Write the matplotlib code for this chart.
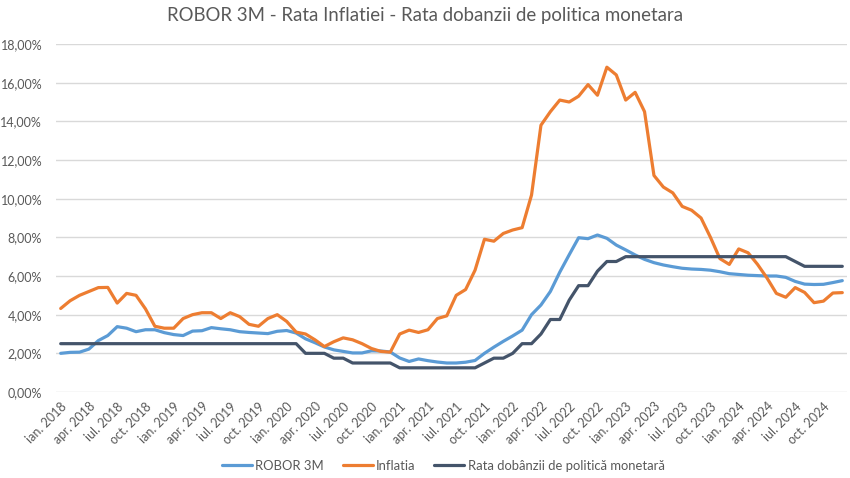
import matplotlib
matplotlib.use("Agg")
import matplotlib.pyplot as plt

# ---------------- data ----------------
months = list(range(84))  # ian. 2018 .. dec. 2024 (monthly)

robor_3m = [
    2.00, 2.05, 2.06, 2.22, 2.66, 2.92, 3.38, 3.30, 3.12, 3.22, 3.22, 3.07,   # 2018
    2.97, 2.92, 3.15, 3.17, 3.33, 3.27, 3.22, 3.12, 3.08, 3.05, 3.02, 3.14,   # 2019
    3.18, 3.05, 2.75, 2.55, 2.33, 2.18, 2.10, 2.02, 2.02, 2.13, 2.12, 2.07,   # 2020
    1.76, 1.58, 1.71, 1.62, 1.55, 1.50, 1.50, 1.54, 1.63, 2.00, 2.32, 2.62,   # 2021
    2.90, 3.20, 4.00, 4.50, 5.20, 6.20, 7.10, 7.98, 7.93, 8.12, 7.95, 7.60,   # 2022
    7.35, 7.09, 6.86, 6.69, 6.57, 6.48, 6.40, 6.36, 6.34, 6.30, 6.22, 6.12,   # 2023
    6.08, 6.04, 6.02, 6.00, 6.00, 5.93, 5.72, 5.58, 5.56, 5.57, 5.66, 5.76,   # 2024
]

inflatia = [
    4.32, 4.72, 5.00, 5.20, 5.40, 5.41, 4.60, 5.10, 5.00, 4.30, 3.40, 3.30,   # 2018
    3.30, 3.80, 4.00, 4.10, 4.10, 3.80, 4.10, 3.90, 3.50, 3.40, 3.80, 4.00,   # 2019
    3.65, 3.10, 3.00, 2.70, 2.35, 2.60, 2.80, 2.70, 2.50, 2.25, 2.10, 2.06,   # 2020
    3.00, 3.20, 3.08, 3.22, 3.80, 3.94, 5.00, 5.30, 6.30, 7.90, 7.80, 8.20,   # 2021
    8.38, 8.50, 10.19, 13.80, 14.50, 15.10, 15.00, 15.30, 15.90, 15.35, 16.80, 16.40,  # 2022
    15.10, 15.50, 14.50, 11.20, 10.60, 10.30, 9.60, 9.40, 9.00, 8.00, 6.90, 6.60,  # 2023
    7.40, 7.20, 6.60, 5.90, 5.10, 4.90, 5.40, 5.15, 4.62, 4.70, 5.12, 5.14,   # 2024
]

rata_politica = [
    2.50, 2.50, 2.50, 2.50, 2.50, 2.50, 2.50, 2.50, 2.50, 2.50, 2.50, 2.50,   # 2018
    2.50, 2.50, 2.50, 2.50, 2.50, 2.50, 2.50, 2.50, 2.50, 2.50, 2.50, 2.50,   # 2019
    2.50, 2.50, 2.00, 2.00, 2.00, 1.75, 1.75, 1.50, 1.50, 1.50, 1.50, 1.50,   # 2020
    1.25, 1.25, 1.25, 1.25, 1.25, 1.25, 1.25, 1.25, 1.25, 1.50, 1.75, 1.75,   # 2021
    2.00, 2.50, 2.50, 3.00, 3.75, 3.75, 4.75, 5.50, 5.50, 6.25, 6.75, 6.75,   # 2022
    7.00, 7.00, 7.00, 7.00, 7.00, 7.00, 7.00, 7.00, 7.00, 7.00, 7.00, 7.00,   # 2023
    7.00, 7.00, 7.00, 7.00, 7.00, 7.00, 6.75, 6.50, 6.50, 6.50, 6.50, 6.50,   # 2024
]

series_names = ["ROBOR 3M", "Inflatia", "Rata dobânzii de politică monetară"]
title = "ROBOR 3M - Rata Inflatiei - Rata dobanzii de politica monetara"

y_ticks = [0, 2, 4, 6, 8, 10, 12, 14, 16, 18]
y_tick_labels = ["0,00%", "2,00%", "4,00%", "6,00%", "8,00%", "10,00%",
                 "12,00%", "14,00%", "16,00%", "18,00%"]

x_ticks = list(range(0, 84, 3))
x_tick_labels = [
    "ian. 2018", "apr. 2018", "iul. 2018", "oct. 2018",
    "ian. 2019", "apr. 2019", "iul. 2019", "oct. 2019",
    "ian. 2020", "apr. 2020", "iul. 2020", "oct. 2020",
    "ian. 2021", "apr. 2021", "iul. 2021", "oct. 2021",
    "ian. 2022", "apr. 2022", "iul. 2022", "oct. 2022",
    "ian. 2023", "apr. 2023", "iul. 2023", "oct. 2023",
    "ian. 2024", "apr. 2024", "iul. 2024", "oct. 2024",
]

# ---------------- style ----------------
plt.rcParams["font.family"] = ["Lato", "DejaVu Sans"]
text_color = "#595959"
colors = ["#5B9BD5", "#ED7D31", "#44546A"]
grid_color = "#D9D9D9"

fig = plt.figure(figsize=(8.5, 4.78), dpi=100)
ax = fig.add_axes([56 / 850, 1 - 392 / 478, (847 - 56) / 850, (392 - 44) / 478])

for vals, name, c in zip([robor_3m, inflatia, rata_politica], series_names, colors):
    ax.plot(months, vals, color=c, lw=2.3, label=name, solid_joinstyle="round",
            solid_capstyle="round")

ax.set_xlim(-0.5, 83.5)
ax.set_ylim(0, 18)
ax.set_yticks(y_ticks)
ax.set_yticklabels(y_tick_labels)
ax.set_xticks(x_ticks)
ax.set_xticklabels(x_tick_labels, rotation=45, ha="right", rotation_mode="anchor")

ax.grid(axis="y", color=grid_color, lw=1)
ax.set_axisbelow(True)
for s in ax.spines.values():
    s.set_visible(False)
ax.tick_params(axis="both", length=0, colors=text_color, labelsize=9)
ax.tick_params(axis="y", pad=10)
ax.tick_params(axis="x", pad=6)

fig.text(0.5, 1 - 15 / 478, title, ha="center", va="center", fontsize=13.4,
         color=text_color)

leg = fig.legend(loc="center", bbox_to_anchor=(443 / 850, 1 - 466 / 478), ncol=3,
                 frameon=False, fontsize=9.4, handlelength=2.3, handletextpad=0.25,
                 columnspacing=1.45)
for t in leg.get_texts():
    t.set_color(text_color)

fig.savefig("out.png", dpi=100)
